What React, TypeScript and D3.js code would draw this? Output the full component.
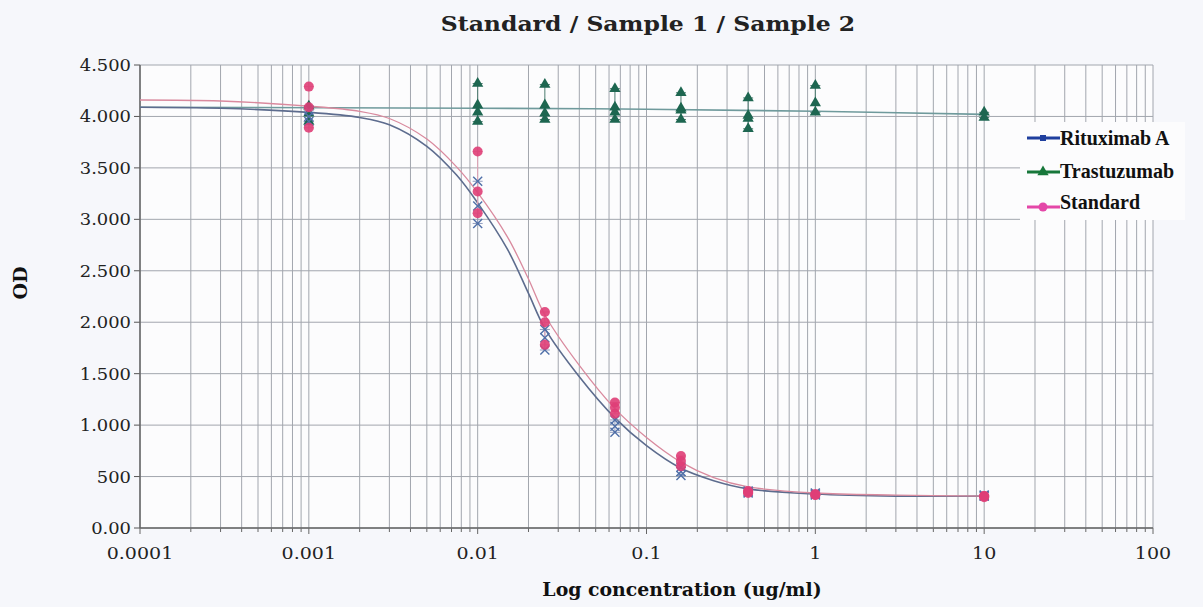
import React from "react";
import * as d3 from "d3";

// concentrations measured (ug/ml)
const concentrations = [0.001, 0.01, 0.025, 0.065, 0.16, 0.4, 1, 10];

// replicate OD readings per concentration
const standardReps = [
  [4.29, 4.09, 3.89],
  [3.66, 3.27, 3.06],
  [2.1, 2.0, 1.78],
  [1.22, 1.17, 1.11],
  [0.7, 0.65, 0.6],
  [0.36, 0.35, 0.34],
  [0.33, 0.32, 0.32],
  [0.31, 0.31, 0.3],
];
const rituximabReps = [
  [4.06, 4.0, 3.95],
  [3.37, 3.13, 2.96],
  [1.93, 1.85, 1.73],
  [1.05, 0.99, 0.93],
  [0.59, 0.55, 0.51],
  [0.36, 0.35, 0.34],
  [0.34, 0.33, 0.32],
  [0.32, 0.31, 0.31],
];
const trastuzumabReps = [
  [4.1, 4.03, 3.95],
  [4.32, 4.11, 4.04, 3.95],
  [4.31, 4.11, 4.03, 3.97],
  [4.27, 4.09, 4.04, 3.97],
  [4.23, 4.08, 4.06, 3.97],
  [4.18, 4.01, 3.98, 3.88],
  [4.3, 4.13, 4.04],
  [4.04, 3.99],
];

// fitted curves
const fitX = [0.0001, 0.0003, 0.001, 0.002, 0.003, 0.005, 0.0075, 0.01, 0.015, 0.02, 0.025, 0.04, 0.065, 0.1, 0.16, 0.25, 0.4, 1, 3, 10];
const standardFit = [4.16, 4.15, 4.1, 4.05, 3.98, 3.78, 3.51, 3.26, 2.83, 2.42, 2.07, 1.58, 1.16, 0.88, 0.64, 0.49, 0.4, 0.34, 0.32, 0.31];
const rituximabFit = [4.09, 4.08, 4.04, 3.99, 3.92, 3.71, 3.43, 3.16, 2.71, 2.28, 1.94, 1.47, 1.07, 0.8, 0.58, 0.46, 0.38, 0.33, 0.31, 0.31];
const trastFitX = [0.0001, 0.01, 0.1, 1, 10];
const trastuzumabFit = [4.09, 4.08, 4.07, 4.05, 4.02];

const xTickValues = [0.0001, 0.001, 0.01, 0.1, 1, 10, 100];
const xTickLabels = ["0.0001", "0.001", "0.01", "0.1", "1", "10", "100"];
const yTickValues = [0, 0.5, 1, 1.5, 2, 2.5, 3, 3.5, 4, 4.5];
const yTickLabels = ["0.00", "500", "1.000", "1.500", "2.000", "2.500", "3.000", "3.500", "4.000", "4.500"];

const legendNames = ["Rituximab A", "Trastuzumab", "Standard"];

const W = 1203;
const H = 607;
const margin = { top: 65, right: 50, bottom: 79, left: 140 };
const serif = "'DejaVu Serif', 'Liberation Serif', serif";
const times = "'Liberation Serif', 'Times New Roman', serif";

export default function App() {
  const x = d3.scaleLog().domain([0.0001, 100]).range([margin.left, W - margin.right]);
  const y = d3.scaleLinear().domain([0, 4.5]).range([H - margin.bottom, margin.top]);

  // minor grid lines 1..9 for every decade
  const minor: number[] = [];
  for (let e = -4; e < 2; e++) {
    for (let m = 1; m <= 9; m++) minor.push(m * Math.pow(10, e));
  }
  minor.push(100);

  const line = d3
    .line<[number, number]>()
    .x((d) => x(d[0]))
    .y((d) => y(d[1]))
    .curve(d3.curveCatmullRom.alpha(0.5));

  const pair = (xs: number[], ys: number[]) => xs.map((v, i) => [v, ys[i]] as [number, number]);

  const errorBar = (reps: number[][], color: string, key: string) =>
    reps.map((r, i) => {
      const cx = x(concentrations[i]);
      const lo = y(d3.min(r)!);
      const hi = y(d3.max(r)!);
      return (
        <g key={key + i} stroke={color} strokeWidth={1}>
          <line x1={cx} x2={cx} y1={lo} y2={hi} />
          <line x1={cx - 5} x2={cx + 5} y1={lo} y2={lo} />
          <line x1={cx - 5} x2={cx + 5} y1={hi} y2={hi} />
        </g>
      );
    });

  const tri = d3.symbol(d3.symbolTriangle, 55)();
  const sq = d3.symbol(d3.symbolSquare, 36)();

  return (
    <svg width={W} height={H} style={{ display: "block", position: "absolute", left: 0, top: 0 }}>
      <rect width={W} height={H} fill="#f6f7fb" />
      <rect x={margin.left} y={margin.top} width={W - margin.left - margin.right} height={H - margin.top - margin.bottom} fill="#fcfcfd" />

      {/* title */}
      <text transform="translate(648,31) scale(1.12,1)" textAnchor="middle" fontFamily={serif} fontWeight="bold" fontSize={21} fill="#222">
        Standard / Sample 1 / Sample 2
      </text>

      {/* vertical grid */}
      {minor.map((m, i) => (
        <g key={"vg" + i}>
          <line x1={x(m)} x2={x(m)} y1={margin.top} y2={H - margin.bottom} stroke="#a2a6ae" strokeWidth={1} />
          <line x1={x(m)} x2={x(m)} y1={H - margin.bottom} y2={H - margin.bottom + (xTickValues.includes(m) ? 6 : 4)} stroke="#666" strokeWidth={1} />
        </g>
      ))}
      {/* horizontal grid */}
      {yTickValues.map((v, i) => (
        <g key={"hg" + i}>
          <line x1={margin.left} x2={W - margin.right} y1={y(v)} y2={y(v)} stroke="#a2a6ae" strokeWidth={1} />
          <line x1={margin.left - 6} x2={margin.left} y1={y(v)} y2={y(v)} stroke="#555" strokeWidth={1} />
          <text transform={`translate(${margin.left - 9},${y(v) + 6}) scale(1.12,1)`} textAnchor="end" fontFamily={serif} fontSize={16} fill="#222">
            {yTickLabels[i]}
          </text>
        </g>
      ))}
      <line x1={margin.left} x2={margin.left} y1={margin.top} y2={H - margin.bottom} stroke="#666" strokeWidth={1.5} />
      <line x1={margin.left} x2={W - margin.right} y1={H - margin.bottom} y2={H - margin.bottom} stroke="#666" strokeWidth={1.5} />

      {xTickValues.map((v, i) => (
        <text key={"xt" + i} transform={`translate(${x(v)},${H - margin.bottom + 31}) scale(1.12,1)`} textAnchor="middle" fontFamily={serif} fontSize={17} fill="#222">
          {xTickLabels[i]}
        </text>
      ))}

      {/* axis titles */}
      <text transform="translate(682,596) scale(1.05,1)" textAnchor="middle" fontFamily={serif} fontWeight="bold" fontSize={18} fill="#111">
        Log concentration (ug/ml)
      </text>
      <text transform="translate(27,283) rotate(-90)" textAnchor="middle" fontFamily={serif} fontWeight="bold" fontSize={19} fill="#111">
        OD
      </text>

      {/* fitted curves */}
      <path d={line(pair(trastFitX, trastuzumabFit))!} fill="none" stroke="#6f9a9c" strokeWidth={1.6} />
      <path d={line(pair(fitX, rituximabFit))!} fill="none" stroke="#5d6c8e" strokeWidth={1.6} />
      <path d={line(pair(fitX, standardFit))!} fill="none" stroke="#d98a9e" strokeWidth={1.3} />

      {/* error bars */}
      {errorBar(trastuzumabReps, "#4d7c70", "te")}
      {errorBar(rituximabReps, "#8f9bbd", "re")}
      {errorBar(standardReps, "#e2a3b6", "se")}

      {/* markers */}
      {trastuzumabReps.map((r, i) =>
        r.map((v, j) => (
          <path key={"tm" + i + "-" + j} d={tri!} transform={`translate(${x(concentrations[i])},${y(v)})`} fill="#1d6650" />
        ))
      )}
      {rituximabReps.map((r, i) =>
        r.map((v, j) => {
          const cx = x(concentrations[i]);
          const cy = y(v);
          return (
            <g key={"rm" + i + "-" + j} stroke="#4f6fa8" strokeWidth={1.4}>
              <line x1={cx - 4.5} x2={cx + 4.5} y1={cy - 4.5} y2={cy + 4.5} />
              <line x1={cx - 4.5} x2={cx + 4.5} y1={cy + 4.5} y2={cy - 4.5} />
            </g>
          );
        })
      )}
      {standardReps.map((r, i) =>
        r.map((v, j) => (
          <circle key={"sm" + i + "-" + j} cx={x(concentrations[i])} cy={y(v)} r={5} fill="#df3e77" fillOpacity={0.9} />
        ))
      )}

      {/* legend */}
      <rect x={1020} y={122} width={165} height={98} fill="#fcfcfd" />
      {legendNames.map((name, i) => {
        const ly = [138, 172, 207][i];
        const color = ["#1f3f9e", "#17773a", "#e447a8"][i];
        return (
          <g key={"lg" + i}>
            <line x1={1027} x2={1060} y1={ly} y2={ly} stroke={color} strokeWidth={3} />
            {i === 0 && <path d={sq!} transform={`translate(1043,${ly})`} fill={color} />}
            {i === 1 && <path d={tri!} transform={`translate(1043,${ly})`} fill={color} />}
            {i === 2 && <circle cx={1043} cy={ly} r={4.5} fill={color} />}
            <text x={1060} y={[145, 178, 209][i]} fontFamily={times} fontWeight="bold" fontSize={20} fill="#111">
              {name}
            </text>
          </g>
        );
      })}
    </svg>
  );
}
